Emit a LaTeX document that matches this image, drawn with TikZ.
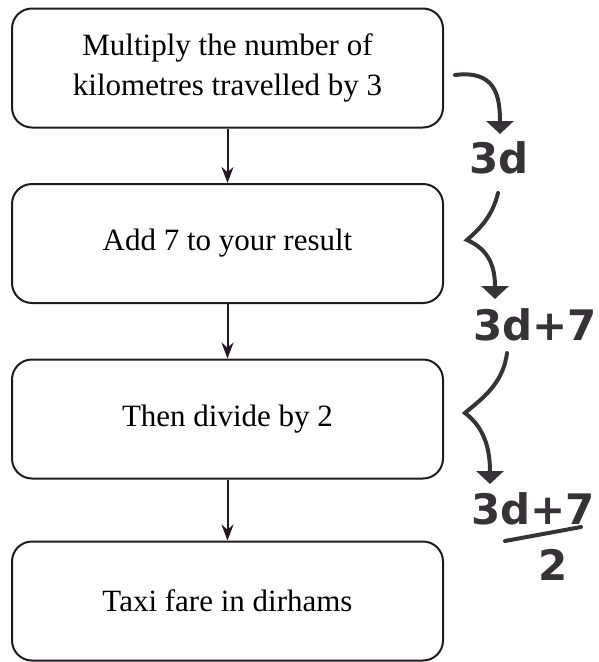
\documentclass[tikz,border=0pt]{standalone}
\usepackage{fontspec}
\setmainfont{Liberation Serif}
\newfontfamily\handfont{DejaVu Sans}
\usetikzlibrary{arrows.meta}
\definecolor{boxline}{RGB}{35,25,35}
\definecolor{ink}{RGB}{55,50,55}
\tikzset{
  stepbox/.style={draw=boxline, line width=2pt, rounded corners=20pt,
    minimum width=431pt, minimum height=119pt, align=center,
    font=\fontsize{31}{40}\selectfont, text=black},
  flow/.style={draw=boxline, line width=2pt, -{Stealth[length=16pt,width=12pt]}},
  hand/.style={draw=ink, line width=4pt, line cap=round,
    -{Triangle[length=13pt,width=27pt]}},
  handtext/.style={text=ink, font=\handfont\bfseries\fontsize{42}{42}\selectfont, inner sep=0pt}
}
\begin{document}
\begin{tikzpicture}[x=1pt,y=-1pt]
\useasboundingbox (0,0) rectangle (599,662);
\node[stepbox] (b1) at (227.5,68) {Multiply the number of\\kilometres travelled by 3};
\node[stepbox] (b2) at (227.5,243.5) {Add 7 to your result};
\node[stepbox] (b3) at (227.5,419) {Then divide by 2};
\node[stepbox] (b4) at (227.5,601) {Taxi fare in dirhams};
\draw[flow] (b1.south) -- (b2.north);
\draw[flow] (b2.south) -- (b3.north);
\draw[flow] (b3.south) -- (b4.north);
% handwritten annotations
\coordinate (a1s) at (455,75);
\coordinate (a1e) at (500,134);
\draw[hand] (a1s) .. controls (495,70) and (500,95) .. (a1e);
\node[handtext] (t1) at (499,158) {3d};
\coordinate (a2s) at (498,193);
\coordinate (a2m) at (467,240);
\coordinate (a2e) at (495,299);
\draw[hand] (a2s) .. controls (492,218) and (478,230) .. (a2m) .. controls (490,250) and (495,268) .. (a2e);
\node[handtext] (t2) at (535,325) {3d+7};
\coordinate (a3s) at (507,353);
\coordinate (a3m) at (465,413);
\coordinate (a3e) at (490,484);
\draw[hand] (a3s) .. controls (503,385) and (480,400) .. (a3m) .. controls (485,428) and (490,450) .. (a3e);
\node[handtext] (t3) at (533,509) {3d+7};
\node[handtext] (t4) at (553,565) {2};
\coordinate (barl) at (505,541);
\coordinate (barr) at (581,527);
\draw[ink, line width=4pt, line cap=round] (barl) -- (barr);
\end{tikzpicture}
\end{document}
